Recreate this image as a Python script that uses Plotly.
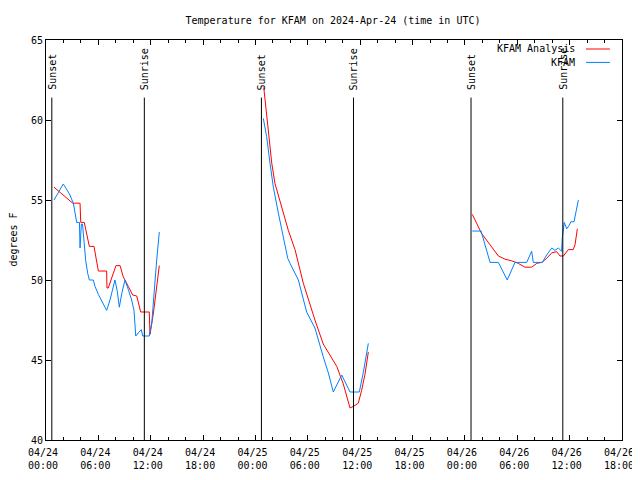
import plotly.graph_objects as go

# ---- data ----
obs_times = [
    "2024-04-24 00:55", "2024-04-24 01:59", "2024-04-24 02:40", "2024-04-24 03:08", "2024-04-24 03:31",
    "2024-04-24 03:50", "2024-04-24 03:54", "2024-04-24 04:03", "2024-04-24 04:11", "2024-04-24 04:23",
    "2024-04-24 04:33", "2024-04-24 04:47", "2024-04-24 04:58", "2024-04-24 05:25", "2024-04-24 05:37",
    "2024-04-24 06:00", "2024-04-24 06:34", "2024-04-24 06:57", "2024-04-24 07:20", "2024-04-24 07:54",
    "2024-04-24 08:10", "2024-04-24 08:24", "2024-04-24 08:42", "2024-04-24 09:03", "2024-04-24 09:26",
    "2024-04-24 09:49", "2024-04-24 10:05", "2024-04-24 10:17", "2024-04-24 10:35", "2024-04-24 10:55",
    "2024-04-24 11:05", "2024-04-24 11:50", "2024-04-24 12:07", "2024-04-24 12:22", "2024-04-24 12:41",
    "2024-04-24 12:59",
    "2024-04-24 18:00",
    "2024-04-25 00:54", "2024-04-25 01:17", "2024-04-25 01:40", "2024-04-25 02:03", "2024-04-25 02:37",
    "2024-04-25 03:11", "2024-04-25 03:42", "2024-04-25 03:58", "2024-04-25 04:55", "2024-04-25 05:52",
    "2024-04-25 06:49", "2024-04-25 07:46", "2024-04-25 08:21", "2024-04-25 08:55", "2024-04-25 09:53",
    "2024-04-25 10:50", "2024-04-25 11:54", "2024-04-25 12:21", "2024-04-25 12:56",
    "2024-04-25 18:00",
    "2024-04-26 00:51", "2024-04-26 01:51", "2024-04-26 02:53", "2024-04-26 03:50", "2024-04-26 04:51",
    "2024-04-26 05:44", "2024-04-26 07:05", "2024-04-26 07:39", "2024-04-26 07:50", "2024-04-26 08:52",
    "2024-04-26 09:22", "2024-04-26 09:57", "2024-04-26 10:19", "2024-04-26 10:42", "2024-04-26 11:05",
    "2024-04-26 11:09", "2024-04-26 11:23", "2024-04-26 11:40", "2024-04-26 11:56", "2024-04-26 12:09",
    "2024-04-26 12:30", "2024-04-26 12:49", "2024-04-26 13:00",
]
obs_temps = [
    55.0, 56.0, 55.4, 54.8, 53.6,
    53.6, 52.0, 53.5, 53.5, 52.2,
    51.2, 50.4, 50.0, 50.0, 49.6,
    49.1, 48.5, 48.1, 48.75, 50.0,
    49.3, 48.3, 49.2, 50.0, 49.4,
    48.75, 48.1, 46.5, 46.7, 46.9,
    46.5, 46.5, 47.3, 49.2, 51.25,
    53.0,
    None,
    60.1, 58.96, 57.3, 55.8, 54.2,
    52.7, 51.35, 51.04, 50.0, 48.0,
    47.0, 45.2, 44.2, 43.0, 44.06,
    43.0, 43.0, 44.2, 46.04,
    None,
    53.06, 53.06, 51.1, 51.1, 50.0,
    51.1, 51.1, 51.8, 51.1, 51.1,
    51.56, 52.0, 51.85, 52.0, 51.8,
    52.6, 53.6, 53.2, 53.4, 53.64,
    53.64, 54.5, 55.0,
]

ana_times = [
    "2024-04-24 00:55", "2024-04-24 01:36", "2024-04-24 03:04", "2024-04-24 03:54", "2024-04-24 03:59",
    "2024-04-24 04:23", "2024-04-24 04:40", "2024-04-24 04:58", "2024-04-24 05:30", "2024-04-24 05:44",
    "2024-04-24 06:00", "2024-04-24 06:57", "2024-04-24 06:59", "2024-04-24 07:08", "2024-04-24 07:32",
    "2024-04-24 08:01", "2024-04-24 08:29", "2024-04-24 08:51", "2024-04-24 09:26", "2024-04-24 09:56",
    "2024-04-24 10:24", "2024-04-24 10:41", "2024-04-24 10:51", "2024-04-24 11:50", "2024-04-24 11:55",
    "2024-04-24 12:18", "2024-04-24 12:41", "2024-04-24 12:59",
    "2024-04-24 18:00",
    "2024-04-25 00:57", "2024-04-25 01:06", "2024-04-25 01:28", "2024-04-25 01:52", "2024-04-25 02:14",
    "2024-04-25 03:00", "2024-04-25 03:46", "2024-04-25 04:32", "2024-04-25 05:29", "2024-04-25 06:49",
    "2024-04-25 07:46", "2024-04-25 09:19", "2024-04-25 10:04", "2024-04-25 10:50", "2024-04-25 11:13",
    "2024-04-25 11:47", "2024-04-25 12:10", "2024-04-25 12:33", "2024-04-25 12:56",
    "2024-04-25 18:00",
    "2024-04-26 00:51", "2024-04-26 01:55", "2024-04-26 02:53", "2024-04-26 03:50", "2024-04-26 04:36",
    "2024-04-26 05:22", "2024-04-26 06:07", "2024-04-26 06:53", "2024-04-26 07:39", "2024-04-26 08:14",
    "2024-04-26 08:48", "2024-04-26 09:22", "2024-04-26 09:57", "2024-04-26 10:31", "2024-04-26 10:54",
    "2024-04-26 11:17", "2024-04-26 11:51", "2024-04-26 12:25", "2024-04-26 12:37", "2024-04-26 12:53",
]
ana_temps = [
    55.8, 55.5, 54.8, 54.8, 53.6,
    53.6, 52.8, 52.1, 52.1, 51.25,
    50.56, 50.56, 49.5, 49.5, 50.2,
    50.9, 50.9, 50.2, 49.6, 49.06,
    49.0, 48.33, 48.0, 48.0, 46.6,
    47.9, 49.8, 50.9,
    None,
    62.04, 61.25, 59.4, 57.3, 56.04,
    54.6, 53.1, 51.9, 49.8, 47.5,
    46.0, 44.6, 43.5, 42.0, 42.1,
    42.3, 43.1, 44.1, 45.5,
    None,
    54.1, 52.9, 52.2, 51.5, 51.3,
    51.2, 51.04, 50.8, 50.8, 51.04,
    51.1, 51.35, 51.7, 51.77, 51.5,
    51.5, 51.9, 51.9, 52.2, 53.2,
]

sun_times = ["2024-04-24 00:40", "2024-04-24 11:16", "2024-04-25 00:41",
             "2024-04-25 11:14", "2024-04-26 00:42", "2024-04-26 11:13"]
sun_labels = ["Sunset", "Sunrise", "Sunset", "Sunrise", "Sunset", "Sunrise"]

x_tickvals = ["2024-04-24 00:00", "2024-04-24 06:00", "2024-04-24 12:00", "2024-04-24 18:00",
              "2024-04-25 00:00", "2024-04-25 06:00", "2024-04-25 12:00", "2024-04-25 18:00",
              "2024-04-26 00:00", "2024-04-26 06:00", "2024-04-26 12:00", "2024-04-26 18:00"]
x_ticktext = ["04/24<br>00:00", "04/24<br>06:00", "04/24<br>12:00", "04/24<br>18:00",
              "04/25<br>00:00", "04/25<br>06:00", "04/25<br>12:00", "04/25<br>18:00",
              "04/26<br>00:00", "04/26<br>06:00", "04/26<br>12:00", "04/26<br>18:00"]
y_tickvals = [40, 45, 50, 55, 60, 65]

title_text = "Temperature for KFAM on 2024-Apr-24 (time in UTC)"
y_title = "degrees F"
legend_names = ["KFAM Analysis", "KFAM"]
RED = "#ff0000"
BLUE = "rgb(0,128,255)"
FONT = "DejaVu Sans Mono"

fig = go.Figure()
fig.add_trace(go.Scatter(x=ana_times, y=ana_temps, mode="lines", name=legend_names[0],
                         line=dict(color=RED, width=1), connectgaps=False, showlegend=False))
fig.add_trace(go.Scatter(x=obs_times, y=obs_temps, mode="lines", name=legend_names[1],
                         line=dict(color=BLUE, width=1), connectgaps=False, showlegend=False))

for t, lab in zip(sun_times, sun_labels):
    fig.add_shape(type="line", xref="x", yref="y", x0=t, x1=t, y0=40, y1=61.4,
                  line=dict(color="black", width=1))
    fig.add_annotation(x=t, y=61.75, xref="x", yref="y", text=lab, textangle=-90,
                       showarrow=False, xanchor="center", yanchor="bottom",
                       font=dict(family=FONT, size=10, color="black"))

# manual gnuplot-style legend (text left, sample right)
leg_y = [0.9775, 0.944]
leg_cols = [RED, BLUE]
for name, yy, col in zip(legend_names, leg_y, leg_cols):
    fig.add_annotation(x=0.916, y=yy, xref="paper", yref="paper", text=name, showarrow=False,
                       xanchor="right", yanchor="middle", xshift=3,
                       font=dict(family=FONT, size=10, color="black"))
    fig.add_shape(type="line", xref="paper", yref="paper", x0=0.9375, x1=0.979, y0=yy, y1=yy,
                  line=dict(color=col, width=1))

fig.add_annotation(x=-0.058, y=0.5, xref="paper", yref="paper", text=y_title, textangle=-90,
                   showarrow=False, xanchor="center", yanchor="middle",
                   font=dict(family=FONT, size=10, color="black"))

fig.update_layout(
    width=640, height=480,
    margin=dict(l=38, r=26, t=32, b=48, autoexpand=False),
    paper_bgcolor="white", plot_bgcolor="white",
    font=dict(family=FONT, size=10, color="black"),
    title=dict(text=title_text, x=325 / 640, xanchor="center", y=0.975, yanchor="middle",
               font=dict(family=FONT, size=10, color="black")),
    showlegend=False,
)
fig.update_xaxes(
    type="date", range=["2024-04-24 00:00", "2024-04-26 18:00"],
    tickmode="array", tickvals=x_tickvals, ticktext=x_ticktext,
    ticks="inside", ticklen=5, tickcolor="black", tickwidth=1,
    minor=dict(ticks="inside", ticklen=3, tickcolor="black", dtick=7200000,
               tick0="2024-04-24 00:00", showgrid=False),
    showline=True, linecolor="black", linewidth=1, mirror="ticks",
    showgrid=False, zeroline=False, automargin=False,
    ticklabelstandoff=3, ticklabelshift=-3,
    tickfont=dict(family=FONT, size=10, color="black"),
)
fig.update_yaxes(
    range=[40, 65], tickmode="array", tickvals=y_tickvals,
    ticks="inside", ticklen=5, tickcolor="black", tickwidth=1,
    showline=True, linecolor="black", linewidth=1, mirror="ticks",
    showgrid=False, zeroline=False, automargin=False,
    tickfont=dict(family=FONT, size=10, color="black"),
)

fig.write_html("out.html")
